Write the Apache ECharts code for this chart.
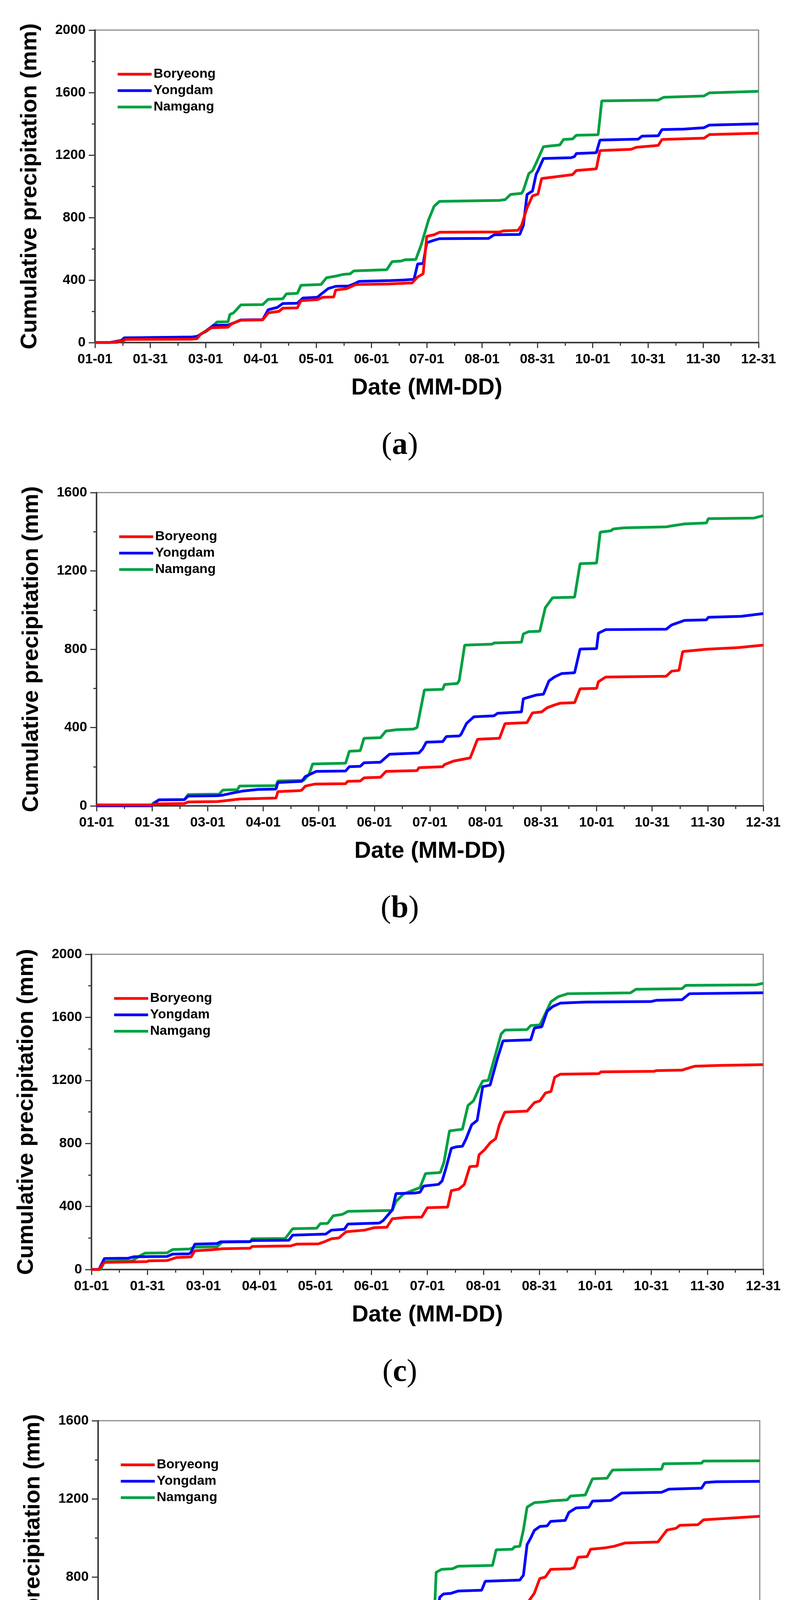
<!DOCTYPE html>
<html>
<head>
<meta charset="utf-8">
<script src="https://cdn.jsdelivr.net/npm/echarts@6/dist/echarts.min.js"></script>
<style>
html,body{margin:0;padding:0;background:#fff;}
#chart{width:2024px;height:4777px;}
</style>
</head>
<body>
<div id="chart"></div>
<script>
// ---------------- DATA ----------------
const TICK_LABELS = ['01-01','01-31','03-01','04-01','05-01','06-01','07-01','08-01','08-31','10-01','10-31','11-30','12-31'];
const DAY_MAX = 364;
const SERIES_NAMES = ['Boryeong','Yongdam','Namgang'];
const PANEL_LABELS = ['a','b','c','d'];
const Y_MAX = [2000,1600,2000,1600];
const Y_TITLE = 'Cumulative precipitation (mm)';
const X_TITLE = 'Date (MM-DD)';

// Panel (a)  [day, cumulative mm]
const A_BOR = [[0,0],[8,0],[15,10],[17,20],[53,22],[56,25],[58,55],[63,88],[64,95],[73,98],[75,120],[80,143],[92,145],[95,190],[101,200],[103,220],[111,222],[113,268],[122,275],[125,290],[131,292],[132,336],[138,345],[139,350],[143,371],[161,375],[174,382],[177,420],[180,440],[182,680],[186,690],[189,706],[222,708],[224,715],[232,718],[234,750],[237,862],[240,939],[243,950],[245,1050],[252,1060],[262,1075],[264,1101],[275,1112],[277,1229],[294,1237],[297,1250],[309,1262],[311,1300],[334,1308],[337,1331],[364,1340]];
const A_YON = [[0,0],[8,0],[15,15],[16,30],[53,35],[56,40],[59,60],[64,101],[65,110],[73,112],[77,130],[80,145],[92,147],[95,210],[100,225],[103,250],[111,252],[114,285],[122,290],[125,319],[128,346],[132,360],[139,362],[142,375],[145,392],[162,397],[169,400],[175,405],[177,503],[180,506],[182,639],[186,655],[189,665],[216,667],[219,690],[233,692],[235,750],[237,948],[240,970],[242,1078],[243,1100],[246,1178],[261,1183],[263,1190],[264,1210],[275,1215],[277,1296],[298,1302],[300,1321],[309,1324],[311,1363],[323,1366],[334,1375],[337,1392],[364,1400]];
const A_NAM = [[0,0],[12,0],[14,10],[16,30],[56,36],[59,61],[61,70],[67,132],[73,133],[74,180],[76,190],[80,241],[92,243],[95,277],[103,280],[105,312],[111,315],[113,367],[124,372],[127,415],[132,425],[136,436],[140,440],[142,459],[160,466],[163,518],[168,522],[170,530],[176,532],[179,627],[183,786],[186,872],[189,904],[222,910],[225,915],[228,948],[234,955],[235,975],[238,1082],[240,1100],[242,1149],[246,1254],[255,1265],[257,1300],[262,1303],[264,1327],[276,1330],[278,1547],[309,1552],[312,1570],[334,1578],[337,1598],[364,1608]];

// Panel (b)
const B_BOR = [[0,5],[30,5],[33,10],[48,12],[50,20],[66,22],[69,25],[78,35],[98,40],[99,73],[111,78],[112,80],[114,101],[119,111],[136,113],[137,125],[144,127],[146,143],[155,146],[158,176],[175,180],[176,195],[189,200],[190,211],[195,229],[204,245],[208,340],[220,345],[223,420],[235,425],[238,475],[243,480],[246,501],[250,515],[253,524],[261,527],[264,598],[273,600],[274,634],[278,658],[311,662],[314,688],[318,692],[320,788],[333,800],[350,808],[364,821]];
const B_YON = [[0,0],[30,0],[34,31],[48,32],[50,50],[66,52],[69,55],[74,65],[80,76],[88,84],[98,86],[99,119],[112,125],[114,150],[120,176],[136,178],[138,200],[144,202],[146,220],[155,223],[160,264],[176,270],[178,290],[180,325],[189,328],[191,354],[198,357],[199,365],[202,421],[206,455],[217,460],[219,473],[232,480],[233,547],[240,566],[244,570],[247,638],[250,658],[254,676],[261,680],[264,801],[273,803],[274,882],[278,900],[311,902],[314,924],[321,947],[333,950],[334,963],[352,968],[364,982]];
const B_NAM = [[0,0],[30,0],[31,15],[34,30],[48,32],[50,58],[67,60],[69,81],[77,83],[78,101],[98,103],[99,127],[113,130],[116,160],[118,214],[136,218],[138,279],[144,282],[146,345],[155,348],[158,382],[164,389],[173,392],[175,400],[179,592],[189,595],[190,620],[197,625],[198,640],[201,821],[216,826],[217,832],[232,836],[233,878],[236,890],[242,892],[245,1012],[249,1063],[261,1066],[264,1237],[273,1240],[275,1398],[281,1405],[282,1414],[288,1420],[311,1425],[314,1430],[321,1440],[333,1445],[334,1467],[359,1470],[364,1482]];

// Panel (c)
const C_BOR = [[0,0],[4,0],[7,45],[30,50],[31,55],[41,57],[46,76],[54,80],[56,119],[65,125],[71,132],[86,135],[87,146],[108,150],[111,161],[123,163],[126,175],[130,195],[134,200],[138,240],[148,250],[153,265],[160,268],[163,322],[170,330],[179,333],[182,392],[193,396],[195,501],[199,510],[202,539],[205,653],[209,656],[210,728],[213,760],[216,804],[219,830],[221,918],[224,999],[236,1005],[240,1059],[243,1070],[246,1120],[249,1130],[251,1220],[254,1239],[275,1243],[276,1254],[305,1258],[306,1262],[320,1265],[322,1273],[327,1290],[340,1295],[364,1300]];
const C_YON = [[0,0],[4,0],[7,70],[20,72],[23,81],[41,83],[44,98],[53,100],[54,110],[56,161],[68,165],[70,176],[86,178],[87,184],[107,186],[109,218],[127,225],[130,250],[137,255],[139,289],[156,295],[158,310],[163,378],[165,482],[175,485],[178,490],[180,530],[188,540],[190,562],[192,640],[195,770],[198,779],[201,782],[203,830],[206,918],[209,946],[212,1160],[216,1170],[220,1340],[223,1451],[238,1457],[240,1532],[244,1540],[246,1608],[247,1640],[250,1669],[254,1690],[268,1697],[303,1700],[306,1708],[320,1712],[324,1750],[364,1756]];
const C_NAM = [[0,0],[5,0],[7,51],[22,55],[26,85],[29,104],[41,106],[44,127],[53,130],[56,142],[68,145],[71,174],[86,176],[87,195],[105,197],[109,259],[122,262],[124,291],[128,293],[131,341],[136,350],[139,369],[163,375],[165,431],[169,479],[176,511],[178,520],[181,609],[189,615],[191,681],[194,880],[201,890],[204,1041],[207,1070],[210,1150],[212,1196],[215,1200],[220,1410],[222,1495],[224,1519],[236,1522],[238,1548],[243,1552],[247,1650],[249,1700],[253,1731],[258,1750],[292,1755],[295,1778],[320,1782],[322,1803],[360,1806],[364,1816]];

// Panel (d)
const D_BOR = [[0,8],[10,15],[17,20],[21,31],[27,35],[34,41],[45,43],[48,50],[59,52],[60,107],[85,110],[86,130],[92,132],[94,153],[100,155],[102,168],[118,170],[121,176],[127,178],[131,191],[135,193],[138,218],[145,230],[148,249],[150,283],[155,298],[159,300],[161,324],[168,333],[181,336],[184,374],[188,413],[195,420],[199,466],[211,468],[213,497],[231,500],[234,604],[236,665],[240,718],[243,793],[246,800],[249,840],[260,843],[262,850],[264,902],[269,905],[271,943],[279,950],[284,958],[290,975],[308,980],[313,1041],[318,1050],[320,1065],[330,1068],[333,1093],[345,1100],[364,1111]];
const D_YON = [[0,0],[10,0],[17,10],[21,23],[31,25],[35,35],[57,38],[59,45],[62,81],[64,90],[68,92],[71,107],[85,110],[88,134],[92,137],[94,150],[100,152],[102,171],[120,173],[124,180],[130,194],[132,225],[136,260],[146,270],[149,318],[153,341],[155,362],[160,365],[163,385],[171,388],[172,400],[179,439],[182,442],[184,500],[186,596],[188,698],[190,714],[194,717],[198,729],[211,733],[213,779],[232,785],[234,810],[236,966],[238,1000],[240,1039],[243,1059],[247,1062],[249,1085],[257,1090],[259,1131],[263,1154],[270,1157],[272,1189],[282,1192],[285,1210],[288,1230],[310,1234],[314,1250],[332,1255],[334,1284],[340,1288],[364,1290]];
const D_NAM = [[0,0],[16,0],[23,10],[30,20],[34,30],[57,32],[59,45],[68,47],[70,118],[75,120],[77,125],[84,127],[86,205],[92,208],[93,244],[100,247],[102,283],[118,285],[121,290],[124,344],[133,346],[136,374],[139,400],[151,403],[155,416],[159,420],[161,455],[166,489],[169,501],[182,503],[185,608],[186,825],[189,840],[195,843],[198,856],[217,860],[219,940],[228,943],[229,955],[232,958],[234,1042],[236,1158],[240,1181],[246,1185],[249,1190],[258,1195],[260,1215],[268,1220],[272,1303],[280,1306],[283,1348],[310,1352],[311,1380],[332,1383],[333,1394],[364,1395]];

const PANEL_DATA = [
  [A_BOR, A_YON, A_NAM],
  [B_BOR, B_YON, B_NAM],
  [C_BOR, C_YON, C_NAM],
  [D_BOR, D_YON, D_NAM]
];

// ---------------- LAYOUT / STYLE ----------------
const LAYOUT = [
  {left:243, right:1941, top:77,   bottom:877},
  {left:247, right:1953, top:1261, bottom:2063},
  {left:234, right:1953, top:2443, bottom:3250},
  {left:251, right:1944, top:3637, bottom:4438}
];
const COLORS = ['#ff0000', '#0000ff', '#00a040'];
const AXIS_COLOR = '#3c3c3c';
const SANS = '"Liberation Sans", Arial, sans-serif';
const SERIF = '"Liberation Serif", "Times New Roman", serif';

const tickDays = TICK_LABELS.map((_, i) => i * DAY_MAX / (TICK_LABELS.length - 1));

const grids = [], xAxes = [], yAxes = [], legends = [], series = [], graphics = [];

LAYOUT.forEach((L, p) => {
  grids.push({
    left: L.left, top: L.top, width: L.right - L.left, height: L.bottom - L.top,
    show: true, borderColor: '#8c8c8c', borderWidth: 3, backgroundColor: 'transparent'
  });
  xAxes.push({
    gridIndex: p, type: 'value', min: 0, max: DAY_MAX, interval: DAY_MAX / (TICK_LABELS.length - 1),
    name: X_TITLE, nameLocation: 'middle', nameGap: 87,
    nameTextStyle: {fontFamily: SANS, fontWeight: 'bold', fontSize: 59, color: '#000'},
    axisLine: {show: true, onZero: false, lineStyle: {color: AXIS_COLOR, width: 4}},
    axisTick: {show: true, inside: false, length: 14, customValues: tickDays, lineStyle: {color: AXIS_COLOR, width: 3}},
    minorTick: {show: true, splitNumber: 2, length: 8, lineStyle: {color: AXIS_COLOR, width: 3}},
    splitLine: {show: false},
    axisLabel: {
      show: true, margin: 26, customValues: tickDays, color: '#000',
      fontFamily: SANS, fontWeight: 'bold', fontSize: 35,
      formatter: v => TICK_LABELS[Math.round(v * (TICK_LABELS.length - 1) / DAY_MAX)]
    }
  });
  yAxes.push({
    gridIndex: p, type: 'value', min: 0, max: Y_MAX[p], interval: 400,
    name: Y_TITLE, nameLocation: 'middle', nameGap: 137, nameRotate: 90,
    nameTextStyle: {fontFamily: SANS, fontWeight: 'bold', fontSize: 58, color: '#000'},
    axisLine: {show: true, onZero: false, lineStyle: {color: AXIS_COLOR, width: 4}},
    axisTick: {show: true, inside: false, length: 16, lineStyle: {color: AXIS_COLOR, width: 3}},
    minorTick: {show: true, splitNumber: 2, length: 8, lineStyle: {color: AXIS_COLOR, width: 3}},
    splitLine: {show: false},
    axisLabel: {
      show: true, margin: 24, color: '#000', fontFamily: SANS, fontWeight: 'bold', fontSize: 35,
      formatter: v => String(Math.round(v))
    }
  });
  legends.push({
    data: SERIES_NAMES.slice(), orient: 'vertical',
    left: L.left + 58, top: L.top + 113 - 17,
    icon: 'rect', itemWidth: 87, itemHeight: 7, itemGap: 8,
    padding: 0, selectedMode: false,
    textStyle: {fontFamily: SANS, fontWeight: 'bold', fontSize: 34, color: '#000', padding: [0,0,0,0], lineHeight: 34}
  });
  // draw order: Namgang first, Boryeong on top
  [2, 1, 0].forEach(s => {
    series.push({
      name: SERIES_NAMES[s], type: 'line', xAxisIndex: p, yAxisIndex: p,
      data: PANEL_DATA[p][s], showSymbol: false, symbol: 'none', smooth: false,
      color: COLORS[s],
      lineStyle: {color: COLORS[s], width: 7},
      z: 3 + (2 - s)
    });
  });
  graphics.push({
    type: 'text', x: 1023, y: L.bottom + 264,
    style: {
      text: '{p|(}{b|' + PANEL_LABELS[p] + '}{p|)}',
      rich: {
        p: {fontFamily: SERIF, fontSize: 80, fill: '#000'},
        b: {fontFamily: SERIF, fontSize: 80, fontWeight: 'bold', fill: '#000'}
      },
      fill: '#000', align: 'center', verticalAlign: 'middle',
      textAlign: 'center', textVerticalAlign: 'middle'
    }
  });
});

const chart = echarts.init(document.getElementById('chart'), null, {renderer: 'canvas'});
chart.setOption({
  animation: false,
  backgroundColor: '#ffffff',
  grid: grids, xAxis: xAxes, yAxis: yAxes, legend: legends,
  series: series, graphic: graphics
});
</script>
</body>
</html>
